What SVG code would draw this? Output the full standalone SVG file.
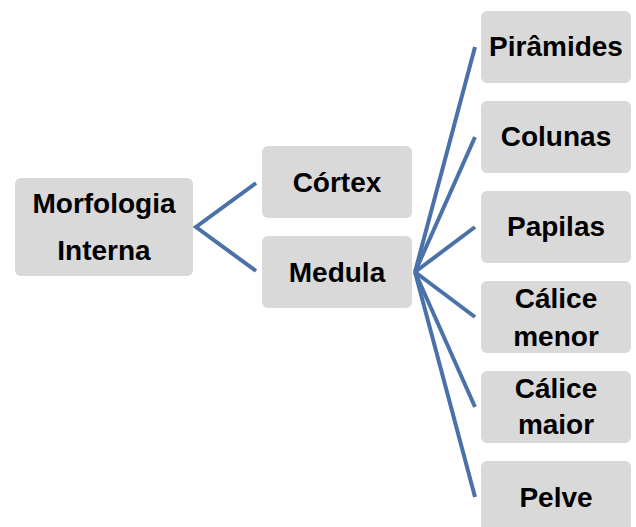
<svg xmlns="http://www.w3.org/2000/svg" width="636" height="527" viewBox="0 0 636 527">
<style>
.box{fill:#d9d9d9;}
.t{font-family:"Liberation Sans",Arial,sans-serif;font-weight:bold;font-size:28px;fill:#000;text-anchor:middle;}
.c{stroke:#4a72a8;stroke-width:4;fill:none;stroke-linecap:butt;}
</style>
<rect width="636" height="527" fill="#fff"/>
<g id="connectors">
<path class="c" d="M256,183 L196,227 L256,271"/>
<path class="c" d="M475,47 L415,272"/>
<path class="c" d="M475,137 L415,272"/>
<path class="c" d="M475,227 L415,272"/>
<path class="c" d="M475,317 L415,272"/>
<path class="c" d="M475,407 L415,272"/>
<path class="c" d="M475,497 L415,272"/>
</g>
<g id="morfologia"><rect class="box" x="15" y="178" width="178" height="98" rx="6"/><text class="t" x="104" y="213">Morfologia</text><text class="t" x="104" y="260">Interna</text></g>
<g id="cortex"><rect class="box" x="262" y="146" width="150" height="72" rx="6"/><text class="t" x="337" y="192">Córtex</text></g>
<g id="medula"><rect class="box" x="262" y="236" width="150" height="72" rx="6"/><text class="t" x="337" y="282">Medula</text></g>
<g id="piramides"><rect class="box" x="481" y="11" width="150" height="72" rx="6"/><text class="t" x="556" y="56">Pirâmides</text></g>
<g id="colunas"><rect class="box" x="481" y="101" width="150" height="72" rx="6"/><text class="t" x="556" y="146">Colunas</text></g>
<g id="papilas"><rect class="box" x="481" y="191" width="150" height="72" rx="6"/><text class="t" x="556" y="236">Papilas</text></g>
<g id="calice-menor"><rect class="box" x="481" y="281" width="150" height="72" rx="6"/><text class="t" x="556" y="308">Cálice</text><text class="t" x="556" y="346">menor</text></g>
<g id="calice-maior"><rect class="box" x="481" y="371" width="150" height="72" rx="6"/><text class="t" x="556" y="398">Cálice</text><text class="t" x="556" y="434">maior</text></g>
<g id="pelve"><rect class="box" x="481" y="461" width="150" height="72" rx="6"/><text class="t" x="556" y="507">Pelve</text></g>
</svg>
